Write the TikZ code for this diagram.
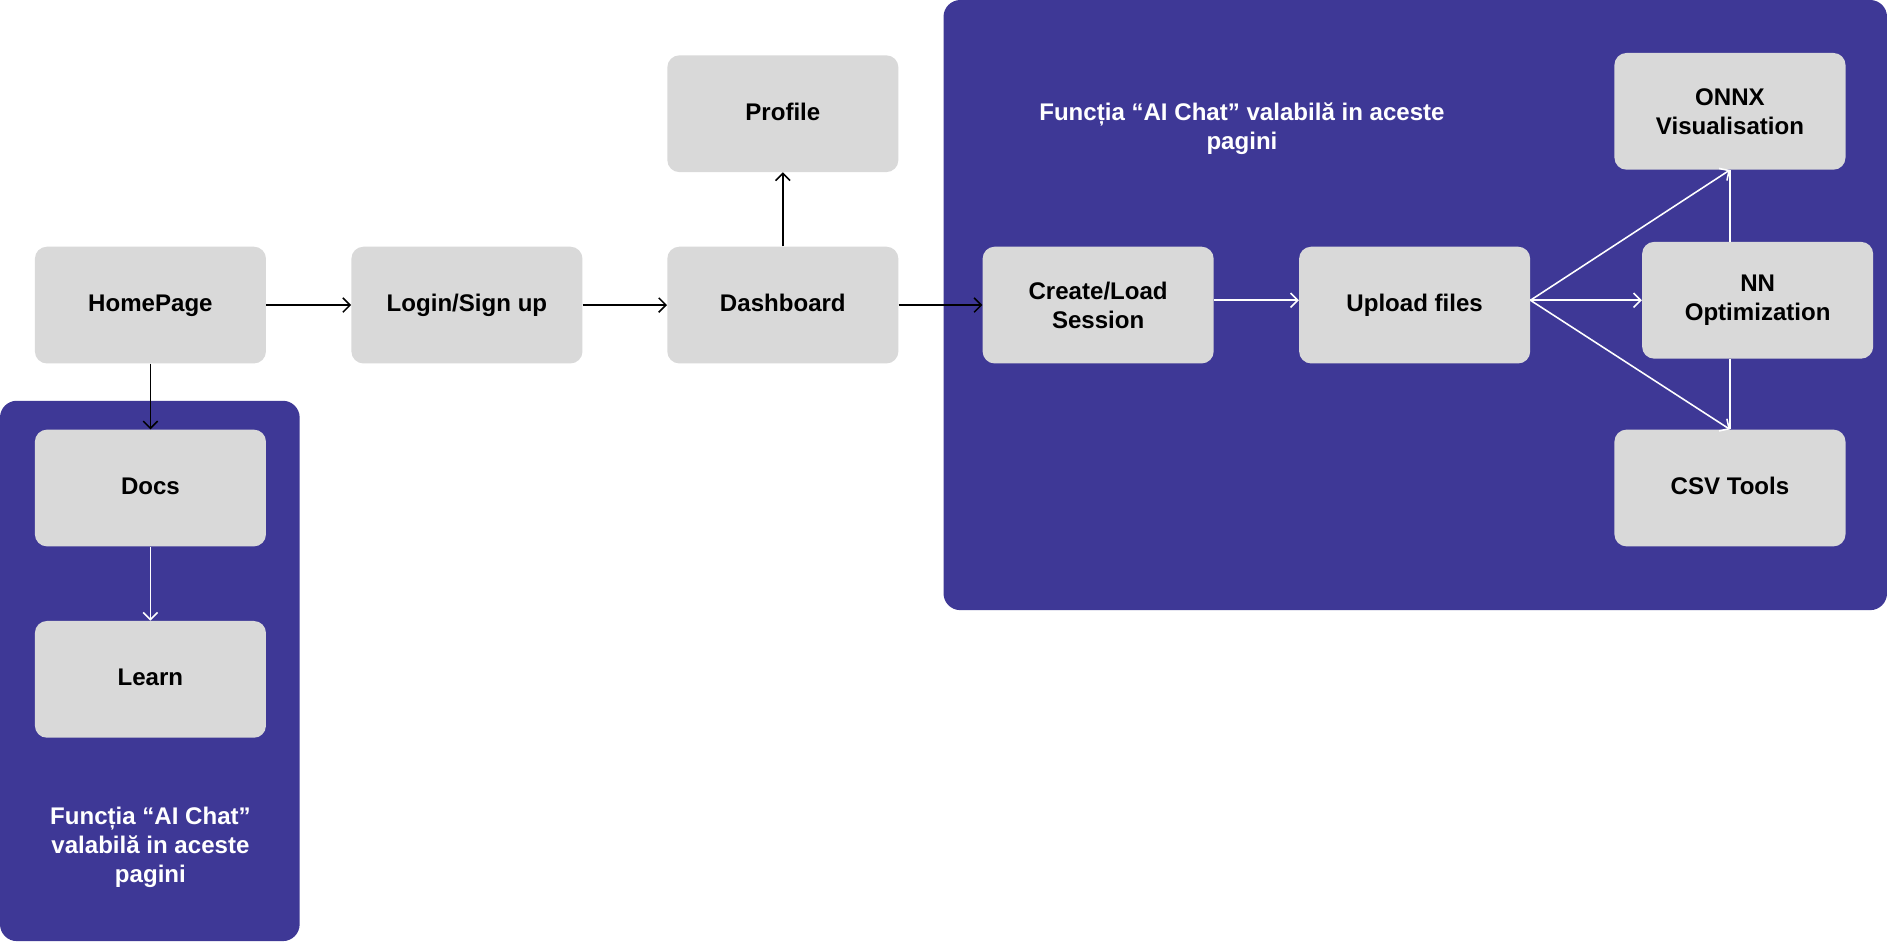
\documentclass[tikz,border=0pt]{standalone}
\usepackage{fontspec}
\setmainfont{Liberation Sans}
\usetikzlibrary{arrows.meta}
\definecolor{panel}{RGB}{62,56,150}
\definecolor{boxgray}{RGB}{217,217,217}
\begin{document}
\begin{tikzpicture}[x=1pt,y=-1pt,
  box/.style={fill=boxgray, rounded corners=10pt, minimum width=192pt, minimum height=97pt, inner sep=0pt, align=center, font=\fontsize{20}{24}\selectfont\bfseries},
  oneline/.style={box, text height=14.5pt, text depth=4pt},
  paneltext/.style={text=white, align=center, inner sep=0pt, font=\fontsize{20}{24}\selectfont\bfseries},
  blk/.style={draw=black, line width=1.3pt, -{Straight Barb[length=6pt,width=12pt,line width=1.3pt]}},
  wht/.style={draw=white, line width=1.3pt, -{Straight Barb[length=6pt,width=12pt,line width=1.3pt]}},
  whtline/.style={draw=white, line width=0.9pt}
]
\useasboundingbox (0,0) rectangle (1568,782);
\fill[white] (0,0) rectangle (1568,782);
% panels
\fill[panel, rounded corners=14pt] (784,0) rectangle (1568,507);
\fill[panel, rounded corners=14pt] (0,333) rectangle (249,782);
% panel texts
\node[paneltext] (tright) at (1032,107) {Funcția “AI Chat” valabilă in aceste\\pagini};
\node[paneltext] (tleft) at (125,704) {Funcția “AI Chat”\\valabilă in aceste\\pagini};
% boxes
\node[oneline] (home) at (125,253.5) {HomePage};
\node[oneline] (login) at (388,253.5) {Login/Sign up};
\node[oneline] (dash) at (650.5,253.5) {Dashboard};
\node[oneline] (prof) at (650.5,94.5) {Profile};
\node[box] (create) at (912.5,253.5) {Create/Load\\Session};
\node[oneline] (upload) at (1175.5,253.5) {Upload files};
\node[box] (onnx) at (1437.5,92.5) {ONNX\\Visualisation};
\node[box] (nn) at (1460.5,249.5) {NN\\Optimization};
\node[oneline] (csv) at (1437.5,405.5) {CSV Tools};
\node[oneline] (docs) at (125,405.5) {Docs};
\node[oneline] (learn) at (125,564.5) {Learn};
\coordinate (ux) at (upload.east |- nn.west);
% connectors
\draw[blk] (home.east) -- (login.west);
\draw[blk] (login.east) -- (dash.west);
\draw[blk] (dash.north) -- (prof.south);
\draw[blk] (dash.east) -- (create.west);
\draw[blk] (home.south) -- (docs.north);
\draw[wht] (docs.south) -- (learn.north);
\draw[wht] (create.east |- nn.west) -- (upload.west |- nn.west);
\draw[wht] (ux) -- (nn.west);
\draw[wht] (ux) -- (onnx.south);
\draw[wht] (ux) -- (csv.north);
\draw[whtline] (nn.north -| onnx.south) -- (onnx.south);
\draw[whtline] (nn.south -| csv.north) -- (csv.north);
\end{tikzpicture}
\end{document}
